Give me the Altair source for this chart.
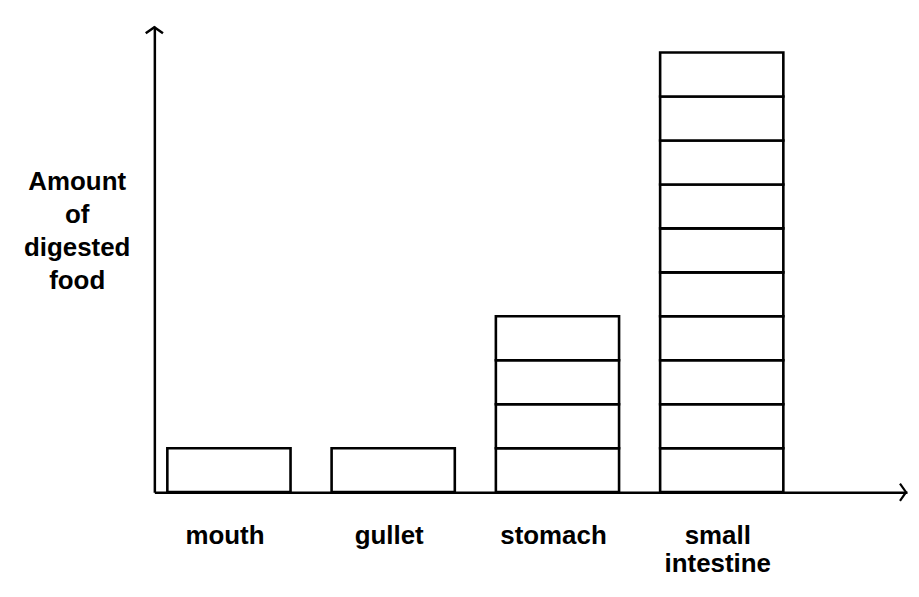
import altair as alt
import pandas as pd

# Data
organs = ["mouth", "gullet", "stomach", "small intestine"]
units = [1, 1, 4, 10]          # number of stacked unit boxes per organ
y_title = ["Amount", "of", "digested", "food"]

rows = []
for organ, n in zip(organs, units):
    for k in range(n):
        rows.append({"organ": organ, "lo": k, "hi": k + 1})
df = pd.DataFrame(rows)

W, H = 756, 468
FONT = "Liberation Sans"

xscale = alt.Scale(paddingInner=0.25, paddingOuter=0.416, align=0.095)
yscale = alt.Scale(domain=[0, 10.6], nice=False, zero=True)

bars = alt.Chart(df).mark_bar(
    fill="white", stroke="black", strokeWidth=2.6
).encode(
    x=alt.X("organ:N", sort=organs, scale=xscale,
            axis=alt.Axis(title=None, labelAngle=0, ticks=False, grid=False,
                          labelExpr="split(datum.label, ' ')",
                          labelFont=FONT, labelFontSize=26, labelFontWeight="bold",
                          labelColor="black", labelPadding=31, labelLineHeight=28,
                          labelOffset=-4,
                          domainColor="black", domainWidth=2.5)),
    y=alt.Y("lo:Q", scale=yscale,
            axis=alt.Axis(title=y_title, labels=False, ticks=False, grid=False,
                          titleAngle=0, titleAlign="center", titleBaseline="alphabetic",
                          titleX=-78, titleY=164, titleFont=FONT, titleFontSize=26,
                          titleFontWeight="bold", titleColor="black",
                          titleLineHeight=33,
                          domainColor="black", domainWidth=2.5)),
    y2="hi:Q",
)

one = pd.DataFrame({"a": [0]})
up_arrow = alt.Chart(one).mark_point(
    shape="M-1,0.7L0,0L1,0.7", filled=False, stroke="black", strokeWidth=2.5,
    size=300, opacity=1
).encode(x=alt.value(0), y=alt.value(1))

right_arrow = alt.Chart(one).mark_point(
    shape="M-0.7,-1L0,0L-0.7,1", filled=False, stroke="black", strokeWidth=2.2,
    size=300, opacity=1
).encode(x=alt.value(W - 1), y=alt.value(H))

chart = alt.layer(bars, up_arrow, right_arrow).properties(
    width=W, height=H,
    autosize=alt.AutoSizeParams(type="none"),
    padding={"left": 147, "top": 17, "right": 4, "bottom": 94},
    background="white",
).configure_view(stroke=None)

chart.save("out.html", embed_options={"renderer": "svg", "actions": False})
